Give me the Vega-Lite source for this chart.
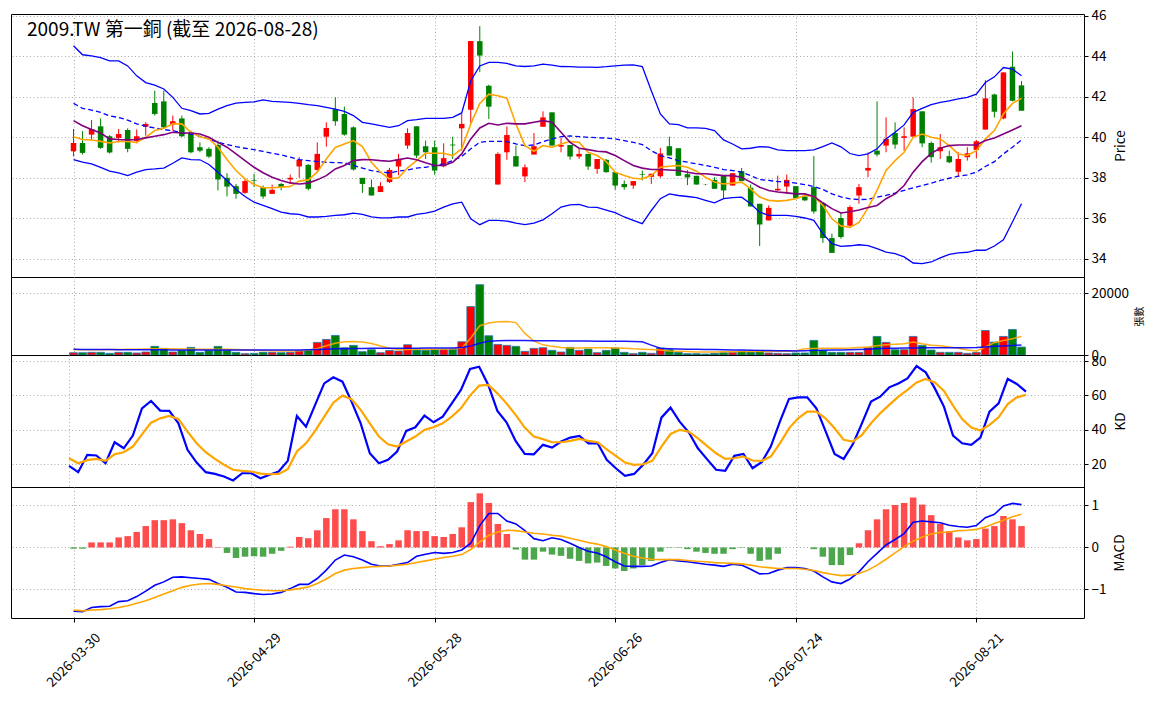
{
  "$schema": "https://vega.github.io/schema/vega-lite/v6.json",
  "padding": {"left": 10, "top": 8, "right": 5, "bottom": 5},
  "bounds": "flush",
  "config": {
    "font": "Noto Sans CJK TC",
    "view": {"stroke": "black", "strokeWidth": 1},
    "axis": {
      "labelFont": "Noto Sans CJK TC", "labelFontSize": 13.5, "labelColor": "black",
      "titleFont": "Noto Sans CJK TC", "titleFontSize": 13.5, "titleFontWeight": "normal", "titleColor": "black",
      "tickColor": "black", "tickSize": 4, "labelPadding": 3,
      "domain": false,
      "gridColor": "#aaaaaa", "gridDash": [1, 2.5], "gridWidth": 1
    }
  },
  "spacing": 0,
  "data": {"values": [
    {"i":0,"d":"2026-03-30","o":39.31,"h":40.41,"l":39.05,"c":39.72,"v":750,"va":1750,"vb":1850,"u":44.51,"m":41.67,"b":38.9,"a5":40.03,"a10":40.82,"k":19.1,"dv":23.5,"md":-1.52,"sg":-1.49,"os":-0.03},
    {"i":1,"d":"2026-03-31","o":39.72,"h":40.3,"l":39.15,"c":39.23,"v":750,"va":1700,"vb":1820,"u":44.07,"m":41.43,"b":38.77,"a5":39.89,"a10":40.57,"k":15.4,"dv":20.6,"md":-1.53,"sg":-1.51,"os":-0.03},
    {"i":2,"d":"2026-04-01","o":40.13,"h":40.85,"l":39.87,"c":40.41,"v":860,"va":1700,"vb":1800,"u":44.02,"m":41.34,"b":38.69,"a5":39.87,"a10":40.38,"k":25.5,"dv":22.4,"md":-1.43,"sg":-1.49,"os":0.12},
    {"i":3,"d":"2026-04-02","o":40.54,"h":40.93,"l":39.43,"c":39.48,"v":860,"va":1700,"vb":1780,"u":43.93,"m":41.23,"b":38.52,"a5":39.8,"a10":40.21,"k":25.1,"dv":23.1,"md":-1.41,"sg":-1.48,"os":0.12},
    {"i":4,"d":"2026-04-07","o":40.05,"h":40.1,"l":39.2,"c":39.25,"v":540,"va":1750,"vb":1760,"u":43.77,"m":41.05,"b":38.33,"a5":39.72,"a10":39.92,"k":20.6,"dv":22.0,"md":-1.4,"sg":-1.46,"os":0.12},
    {"i":5,"d":"2026-04-08","o":39.97,"h":40.41,"l":39.75,"c":40.16,"v":860,"va":1800,"vb":1740,"u":43.77,"m":40.98,"b":38.25,"a5":39.79,"a10":39.89,"k":32.8,"dv":25.8,"md":-1.29,"sg":-1.43,"os":0.24},
    {"i":6,"d":"2026-04-09","o":40.36,"h":40.44,"l":39.26,"c":39.43,"v":860,"va":1850,"vb":1720,"u":43.52,"m":40.85,"b":38.11,"a5":39.79,"a10":39.87,"k":29.3,"dv":27.0,"md":-1.27,"sg":-1.39,"os":0.27},
    {"i":7,"d":"2026-04-10","o":39.82,"h":40.39,"l":39.7,"c":40.05,"v":650,"va":1900,"vb":1700,"u":43.03,"m":40.66,"b":38.28,"a5":39.75,"a10":39.89,"k":36.7,"dv":30.3,"md":-1.17,"sg":-1.33,"os":0.37},
    {"i":8,"d":"2026-04-13","o":40.52,"h":40.74,"l":40.08,"c":40.66,"v":970,"va":1950,"vb":1680,"u":42.7,"m":40.54,"b":38.41,"a5":40.0,"a10":39.97,"k":52.5,"dv":37.4,"md":-1.04,"sg":-1.27,"os":0.51},
    {"i":9,"d":"2026-04-14","o":41.69,"h":42.3,"l":41.07,"c":41.15,"v":2800,"va":2000,"vb":1680,"u":42.57,"m":40.46,"b":38.44,"a5":40.33,"a10":40.05,"k":56.8,"dv":44.2,"md":-0.9,"sg":-1.19,"os":0.65},
    {"i":10,"d":"2026-04-15","o":41.77,"h":42.3,"l":40.41,"c":40.49,"v":2150,"va":2000,"vb":1680,"u":42.38,"m":40.38,"b":38.48,"a5":40.44,"a10":40.13,"k":51.2,"dv":46.7,"md":-0.82,"sg":-1.11,"os":0.65},
    {"i":11,"d":"2026-04-16","o":40.62,"h":41.07,"l":40.33,"c":40.79,"v":970,"va":2000,"vb":1660,"u":41.97,"m":40.33,"b":38.72,"a5":40.66,"a10":40.25,"k":51.0,"dv":48.1,"md":-0.71,"sg":-1.03,"os":0.67},
    {"i":12,"d":"2026-04-17","o":40.93,"h":41.07,"l":40.0,"c":40.05,"v":1500,"va":1950,"vb":1650,"u":41.43,"m":40.21,"b":38.98,"a5":40.66,"a10":40.21,"k":43.8,"dv":46.3,"md":-0.7,"sg":-0.95,"os":0.58},
    {"i":13,"d":"2026-04-20","o":40.25,"h":40.33,"l":39.21,"c":39.26,"v":2470,"va":1950,"vb":1650,"u":41.31,"m":40.16,"b":38.9,"a5":40.25,"a10":40.21,"k":28.4,"dv":39.0,"md":-0.72,"sg":-0.9,"os":0.41},
    {"i":14,"d":"2026-04-21","o":39.51,"h":39.75,"l":39.26,"c":39.34,"v":860,"va":1900,"vb":1640,"u":41.15,"m":40.05,"b":38.89,"a5":40.03,"a10":40.16,"k":21.0,"dv":32.2,"md":-0.74,"sg":-0.87,"os":0.32},
    {"i":15,"d":"2026-04-22","o":39.43,"h":39.51,"l":38.98,"c":39.05,"v":1400,"va":1900,"vb":1630,"u":41.18,"m":39.92,"b":38.66,"a5":39.92,"a10":40.0,"k":15.4,"dv":27.0,"md":-0.76,"sg":-0.86,"os":0.2},
    {"i":16,"d":"2026-04-23","o":39.62,"h":39.84,"l":37.38,"c":37.92,"v":2800,"va":1900,"vb":1620,"u":41.39,"m":39.75,"b":38.28,"a5":39.51,"a10":39.75,"k":14.4,"dv":23.1,"md":-0.86,"sg":-0.88,"os":0.01},
    {"i":17,"d":"2026-04-24","o":38.0,"h":38.23,"l":37.08,"c":37.57,"v":1500,"va":1850,"vb":1610,"u":41.56,"m":39.64,"b":37.87,"a5":38.9,"a10":39.51,"k":12.9,"dv":19.7,"md":-0.95,"sg":-0.91,"os":-0.13},
    {"i":18,"d":"2026-04-27","o":37.59,"h":37.7,"l":36.97,"c":37.21,"v":860,"va":1800,"vb":1600,"u":41.69,"m":39.54,"b":37.43,"a5":38.36,"a10":39.18,"k":10.6,"dv":16.8,"md":-1.06,"sg":-0.94,"os":-0.25},
    {"i":19,"d":"2026-04-28","o":37.26,"h":37.95,"l":37.21,"c":37.84,"v":430,"va":1700,"vb":1600,"u":41.72,"m":39.46,"b":37.08,"a5":37.95,"a10":38.85,"k":14.8,"dv":16.2,"md":-1.07,"sg":-0.98,"os":-0.22},
    {"i":20,"d":"2026-04-29","o":37.88,"h":38.2,"l":37.55,"c":37.85,"v":540,"va":1550,"vb":1600,"u":41.75,"m":39.39,"b":36.8,"a5":37.67,"a10":38.52,"k":14.8,"dv":15.8,"md":-1.1,"sg":-1.0,"os":-0.21},
    {"i":21,"d":"2026-04-30","o":37.54,"h":37.62,"l":36.97,"c":37.08,"v":860,"va":1450,"vb":1600,"u":41.84,"m":39.3,"b":36.64,"a5":37.51,"a10":38.25,"k":11.9,"dv":14.6,"md":-1.12,"sg":-1.02,"os":-0.22},
    {"i":22,"d":"2026-05-04","o":37.21,"h":37.67,"l":37.21,"c":37.41,"v":860,"va":1400,"vb":1600,"u":41.77,"m":39.21,"b":36.48,"a5":37.51,"a10":38.03,"k":13.9,"dv":14.2,"md":-1.11,"sg":-1.03,"os":-0.15},
    {"i":23,"d":"2026-05-05","o":37.7,"h":37.74,"l":37.38,"c":37.54,"v":750,"va":1300,"vb":1600,"u":41.75,"m":39.13,"b":36.31,"a5":37.54,"a10":37.87,"k":15.8,"dv":14.4,"md":-1.07,"sg":-1.03,"os":-0.08},
    {"i":24,"d":"2026-05-06","o":37.92,"h":38.16,"l":37.7,"c":38.0,"v":860,"va":1300,"vb":1620,"u":41.72,"m":39.02,"b":36.23,"a5":37.57,"a10":37.75,"k":22.0,"dv":17.1,"md":-0.98,"sg":-1.01,"os":0.02},
    {"i":25,"d":"2026-05-07","o":38.56,"h":39.02,"l":38.0,"c":38.89,"v":1290,"va":1400,"vb":1650,"u":41.67,"m":38.9,"b":36.2,"a5":37.84,"a10":37.7,"k":48.1,"dv":27.4,"md":-0.88,"sg":-0.98,"os":0.25},
    {"i":26,"d":"2026-05-08","o":38.64,"h":38.69,"l":37.38,"c":37.46,"v":1500,"va":1600,"vb":1700,"u":41.61,"m":38.85,"b":36.07,"a5":37.9,"a10":37.74,"k":41.9,"dv":32.2,"md":-0.88,"sg":-0.94,"os":0.22},
    {"i":27,"d":"2026-05-11","o":38.39,"h":39.75,"l":38.26,"c":39.18,"v":4090,"va":2100,"vb":1800,"u":41.56,"m":38.8,"b":36.07,"a5":38.28,"a10":37.9,"k":54.5,"dv":39.4,"md":-0.74,"sg":-0.86,"os":0.41},
    {"i":28,"d":"2026-05-12","o":40.03,"h":40.74,"l":39.54,"c":40.46,"v":5050,"va":3000,"vb":1900,"u":41.48,"m":38.77,"b":36.1,"a5":38.93,"a10":38.11,"k":67.0,"dv":47.7,"md":-0.54,"sg":-0.75,"os":0.7},
    {"i":29,"d":"2026-05-13","o":41.39,"h":41.97,"l":40.57,"c":40.79,"v":6340,"va":3800,"vb":2000,"u":41.39,"m":38.75,"b":36.15,"a5":39.5,"a10":38.44,"k":70.5,"dv":55.8,"md":-0.3,"sg":-0.62,"os":0.91},
    {"i":30,"d":"2026-05-14","o":41.15,"h":41.51,"l":40.08,"c":40.13,"v":2370,"va":4300,"vb":2050,"u":41.28,"m":38.74,"b":36.18,"a5":39.67,"a10":38.61,"k":68.0,"dv":59.9,"md":-0.18,"sg":-0.54,"os":0.91},
    {"i":31,"d":"2026-05-15","o":40.49,"h":40.54,"l":38.36,"c":38.41,"v":3120,"va":4400,"vb":2100,"u":41.07,"m":38.61,"b":36.26,"a5":39.84,"a10":38.85,"k":56.4,"dv":57.8,"md":-0.22,"sg":-0.5,"os":0.67},
    {"i":32,"d":"2026-05-18","o":38.0,"h":38.0,"l":37.26,"c":37.7,"v":1075,"va":4200,"vb":2120,"u":40.74,"m":38.48,"b":36.2,"a5":39.54,"a10":38.9,"k":43.8,"dv":51.6,"md":-0.3,"sg":-0.48,"os":0.39},
    {"i":33,"d":"2026-05-19","o":37.54,"h":37.92,"l":37.13,"c":37.13,"v":1720,"va":3700,"vb":2150,"u":40.66,"m":38.36,"b":36.07,"a5":38.77,"a10":38.89,"k":26.4,"dv":43.8,"md":-0.4,"sg":-0.46,"os":0.15},
    {"i":34,"d":"2026-05-20","o":37.3,"h":37.79,"l":37.3,"c":37.59,"v":750,"va":2900,"vb":2150,"u":40.57,"m":38.28,"b":36.03,"a5":38.28,"a10":38.85,"k":20.6,"dv":36.1,"md":-0.44,"sg":-0.45,"os":0.03},
    {"i":35,"d":"2026-05-21","o":37.79,"h":38.49,"l":37.75,"c":38.39,"v":1500,"va":2200,"vb":2150,"u":40.49,"m":38.25,"b":36.03,"a5":37.95,"a10":38.82,"k":22.6,"dv":31.6,"md":-0.44,"sg":-0.44,"os":0.08},
    {"i":36,"d":"2026-05-22","o":38.56,"h":39.18,"l":38.13,"c":38.9,"v":1290,"va":1800,"vb":2180,"u":40.57,"m":38.33,"b":36.07,"a5":38.0,"a10":38.9,"k":27.4,"dv":30.3,"md":-0.4,"sg":-0.42,"os":0.17},
    {"i":37,"d":"2026-05-25","o":39.59,"h":40.44,"l":39.43,"c":40.21,"v":3330,"va":1800,"vb":2200,"u":40.82,"m":38.39,"b":36.07,"a5":38.49,"a10":38.98,"k":39.4,"dv":33.2,"md":-0.36,"sg":-0.4,"os":0.41},
    {"i":38,"d":"2026-05-26","o":40.54,"h":40.54,"l":38.98,"c":39.1,"v":1610,"va":1850,"vb":2220,"u":40.87,"m":38.48,"b":36.2,"a5":38.85,"a10":38.89,"k":41.5,"dv":36.1,"md":-0.21,"sg":-0.36,"os":0.39},
    {"i":39,"d":"2026-05-27","o":39.56,"h":39.84,"l":38.93,"c":39.26,"v":1500,"va":1900,"vb":2250,"u":40.93,"m":38.52,"b":36.26,"a5":39.21,"a10":38.74,"k":48.3,"dv":40.0,"md":-0.16,"sg":-0.32,"os":0.39},
    {"i":40,"d":"2026-05-28","o":39.51,"h":39.84,"l":38.15,"c":38.36,"v":1720,"va":1900,"vb":2260,"u":40.93,"m":38.61,"b":36.36,"a5":39.21,"a10":38.61,"k":44.4,"dv":41.5,"md":-0.12,"sg":-0.28,"os":0.27},
    {"i":41,"d":"2026-05-29","o":38.57,"h":39.7,"l":38.52,"c":38.97,"v":1720,"va":1950,"vb":2280,"u":40.93,"m":38.69,"b":36.56,"a5":39.21,"a10":38.61,"k":47.7,"dv":43.8,"md":-0.14,"sg":-0.24,"os":0.25},
    {"i":42,"d":"2026-06-01","o":39.64,"h":40.03,"l":38.93,"c":39.6,"v":1830,"va":2000,"vb":2300,"u":40.98,"m":38.85,"b":36.72,"a5":39.1,"a10":38.77,"k":55.4,"dv":47.7,"md":-0.12,"sg":-0.21,"os":0.32},
    {"i":43,"d":"2026-06-02","o":40.44,"h":41.15,"l":39.34,"c":40.66,"v":4300,"va":2300,"vb":2400,"u":41.2,"m":39.05,"b":36.8,"a5":39.43,"a10":39.18,"k":63.2,"dv":52.5,"md":-0.06,"sg":-0.17,"os":0.48},
    {"i":44,"d":"2026-06-03","o":41.36,"h":44.75,"l":40.69,"c":44.75,"v":15700,"va":5500,"vb":2900,"u":42.79,"m":39.43,"b":35.98,"a5":40.66,"a10":39.92,"k":75.4,"dv":59.9,"md":0.1,"sg":-0.05,"os":1.08},
    {"i":45,"d":"2026-06-04","o":44.74,"h":45.48,"l":43.21,"c":44.03,"v":22800,"va":9500,"vb":3800,"u":43.52,"m":39.75,"b":35.69,"a5":41.67,"a10":40.46,"k":76.7,"dv":65.7,"md":0.52,"sg":0.13,"os":1.29},
    {"i":46,"d":"2026-06-05","o":42.54,"h":42.59,"l":40.9,"c":41.51,"v":6240,"va":10400,"vb":4500,"u":43.69,"m":39.8,"b":35.9,"a5":42.13,"a10":40.69,"k":66.1,"dv":66.1,"md":0.81,"sg":0.29,"os":1.06},
    {"i":47,"d":"2026-06-08","o":37.67,"h":39.26,"l":37.67,"c":39.18,"v":3440,"va":10800,"vb":4650,"u":43.69,"m":39.8,"b":35.9,"a5":42.05,"a10":40.61,"k":51.0,"dv":61.2,"md":0.81,"sg":0.37,"os":0.56},
    {"i":48,"d":"2026-06-09","o":39.26,"h":40.54,"l":38.89,"c":40.11,"v":3120,"va":10900,"vb":4700,"u":43.64,"m":39.79,"b":35.87,"a5":41.93,"a10":40.69,"k":44.4,"dv":55.4,"md":0.63,"sg":0.41,"os":0.32},
    {"i":49,"d":"2026-06-10","o":39.07,"h":39.59,"l":38.56,"c":38.56,"v":2800,"va":10500,"vb":4700,"u":43.52,"m":39.67,"b":35.77,"a5":40.66,"a10":40.66,"k":33.6,"dv":48.7,"md":0.56,"sg":0.4,"os":-0.05},
    {"i":50,"d":"2026-06-11","o":38.07,"h":38.66,"l":37.79,"c":38.52,"v":1180,"va":7000,"vb":4680,"u":43.49,"m":39.59,"b":35.69,"a5":39.59,"a10":40.66,"k":26.0,"dv":41.3,"md":0.4,"sg":0.37,"os":-0.29},
    {"i":51,"d":"2026-06-12","o":39.15,"h":40.21,"l":39.15,"c":39.56,"v":2150,"va":4500,"vb":4650,"u":43.52,"m":39.62,"b":35.77,"a5":39.31,"a10":40.74,"k":25.8,"dv":36.1,"md":0.21,"sg":0.34,"os":-0.29},
    {"i":52,"d":"2026-06-15","o":40.52,"h":41.28,"l":40.52,"c":40.98,"v":2370,"va":3300,"vb":4620,"u":43.61,"m":39.79,"b":35.93,"a5":39.59,"a10":40.82,"k":31.3,"dv":34.6,"md":0.16,"sg":0.32,"os":-0.1},
    {"i":53,"d":"2026-06-16","o":41.23,"h":41.23,"l":39.59,"c":39.59,"v":1500,"va":2800,"vb":4600,"u":43.56,"m":39.92,"b":36.23,"a5":39.51,"a10":40.74,"k":29.7,"dv":32.8,"md":0.23,"sg":0.29,"os":-0.17},
    {"i":54,"d":"2026-06-17","o":39.54,"h":39.97,"l":39.26,"c":39.62,"v":970,"va":2400,"vb":4580,"u":43.49,"m":40.03,"b":36.56,"a5":39.67,"a10":40.25,"k":33.2,"dv":32.8,"md":0.19,"sg":0.27,"os":-0.2},
    {"i":55,"d":"2026-06-18","o":39.62,"h":39.62,"l":38.9,"c":39.05,"v":2470,"va":2300,"vb":4560,"u":43.48,"m":40.07,"b":36.67,"a5":39.79,"a10":39.75,"k":35.5,"dv":33.6,"md":0.1,"sg":0.22,"os":-0.27},
    {"i":56,"d":"2026-06-22","o":39.05,"h":39.46,"l":38.93,"c":39.18,"v":1500,"va":2300,"vb":4540,"u":43.46,"m":40.03,"b":36.69,"a5":39.75,"a10":39.46,"k":36.5,"dv":34.7,"md":0.0,"sg":0.17,"os":-0.32},
    {"i":57,"d":"2026-06-23","o":39.18,"h":39.18,"l":38.39,"c":38.56,"v":1940,"va":2350,"vb":4520,"u":43.46,"m":40.0,"b":36.56,"a5":39.26,"a10":39.39,"k":32.2,"dv":33.6,"md":-0.09,"sg":0.12,"os":-0.38},
    {"i":58,"d":"2026-06-24","o":38.44,"h":38.93,"l":38.2,"c":38.93,"v":750,"va":2350,"vb":4500,"u":43.45,"m":39.98,"b":36.54,"a5":39.1,"a10":39.31,"k":32.2,"dv":32.8,"md":-0.13,"sg":0.08,"os":-0.36},
    {"i":59,"d":"2026-06-25","o":38.89,"h":38.93,"l":38.25,"c":38.28,"v":1500,"va":2350,"vb":4480,"u":43.48,"m":39.96,"b":36.41,"a5":38.8,"a10":39.28,"k":22.6,"dv":28.7,"md":-0.22,"sg":0.02,"os":-0.44},
    {"i":60,"d":"2026-06-26","o":38.28,"h":38.28,"l":37.41,"c":37.62,"v":2260,"va":2300,"vb":4460,"u":43.52,"m":39.92,"b":36.28,"a5":38.28,"a10":39.1,"k":17.7,"dv":24.9,"md":-0.34,"sg":-0.06,"os":-0.5},
    {"i":61,"d":"2026-06-29","o":37.7,"h":37.87,"l":37.41,"c":37.54,"v":860,"va":2200,"vb":4440,"u":43.56,"m":39.84,"b":36.07,"a5":38.11,"a10":38.85,"k":13.3,"dv":21.0,"md":-0.44,"sg":-0.14,"os":-0.56},
    {"i":62,"d":"2026-06-30","o":37.62,"h":37.84,"l":37.46,"c":37.84,"v":430,"va":2000,"vb":4400,"u":43.57,"m":39.75,"b":35.9,"a5":37.98,"a10":38.61,"k":14.4,"dv":19.7,"md":-0.45,"sg":-0.21,"os":-0.5},
    {"i":63,"d":"2026-07-01","o":38.18,"h":38.36,"l":37.87,"c":38.15,"v":860,"va":1900,"vb":4300,"u":43.49,"m":39.64,"b":35.74,"a5":37.95,"a10":38.48,"k":19.7,"dv":20.0,"md":-0.45,"sg":-0.25,"os":-0.42},
    {"i":64,"d":"2026-07-02","o":38.05,"h":38.2,"l":37.7,"c":38.2,"v":540,"va":1800,"vb":3200,"u":42.3,"m":39.34,"b":36.39,"a5":38.11,"a10":38.41,"k":26.4,"dv":22.0,"md":-0.44,"sg":-0.28,"os":-0.32},
    {"i":65,"d":"2026-07-03","o":38.08,"h":39.48,"l":38.0,"c":39.2,"v":2260,"va":1600,"vb":2200,"u":41.15,"m":39.1,"b":36.97,"a5":38.52,"a10":38.41,"k":47.1,"dv":30.3,"md":-0.36,"sg":-0.29,"os":-0.1},
    {"i":66,"d":"2026-07-06","o":39.56,"h":40.03,"l":39.1,"c":39.1,"v":1720,"va":1300,"vb":2050,"u":40.66,"m":38.98,"b":37.21,"a5":38.57,"a10":38.39,"k":52.9,"dv":37.6,"md":-0.29,"sg":-0.29,"os":-0.01},
    {"i":67,"d":"2026-07-07","o":39.46,"h":39.46,"l":38.1,"c":38.1,"v":860,"va":1200,"vb":1950,"u":40.62,"m":38.85,"b":37.13,"a5":38.61,"a10":38.36,"k":44.8,"dv":40.0,"md":-0.32,"sg":-0.29,"os":-0.01},
    {"i":68,"d":"2026-07-08","o":38.18,"h":38.38,"l":37.64,"c":38.02,"v":430,"va":1100,"vb":1900,"u":40.46,"m":38.77,"b":37.08,"a5":38.52,"a10":38.28,"k":38.6,"dv":39.0,"md":-0.34,"sg":-0.31,"os":-0.04},
    {"i":69,"d":"2026-07-09","o":38.1,"h":38.1,"l":37.67,"c":37.67,"v":430,"va":1000,"vb":1850,"u":40.46,"m":38.69,"b":37.02,"a5":38.33,"a10":38.2,"k":29.3,"dv":35.1,"md":-0.37,"sg":-0.33,"os":-0.1},
    {"i":70,"d":"2026-07-10","o":37.67,"h":37.7,"l":37.64,"c":37.66,"v":320,"va":970,"vb":1800,"u":40.44,"m":38.61,"b":36.89,"a5":38.03,"a10":38.2,"k":23.0,"dv":30.7,"md":-0.4,"sg":-0.34,"os":-0.13},
    {"i":71,"d":"2026-07-13","o":37.9,"h":38.03,"l":37.46,"c":37.46,"v":540,"va":1000,"vb":1750,"u":40.33,"m":38.52,"b":36.77,"a5":37.79,"a10":38.16,"k":16.8,"dv":26.4,"md":-0.42,"sg":-0.36,"os":-0.15},
    {"i":72,"d":"2026-07-14","o":38.11,"h":38.11,"l":36.97,"c":37.38,"v":750,"va":1050,"vb":1700,"u":39.87,"m":38.41,"b":36.97,"a5":37.7,"a10":38.11,"k":16.2,"dv":23.1,"md":-0.45,"sg":-0.37,"os":-0.15},
    {"i":73,"d":"2026-07-15","o":37.62,"h":38.23,"l":37.62,"c":38.23,"v":860,"va":1075,"vb":1650,"u":39.67,"m":38.36,"b":37.02,"a5":37.74,"a10":38.11,"k":24.9,"dv":23.5,"md":-0.4,"sg":-0.38,"os":-0.04},
    {"i":74,"d":"2026-07-16","o":38.33,"h":38.49,"l":37.84,"c":37.84,"v":1290,"va":1100,"vb":1600,"u":39.43,"m":38.28,"b":37.05,"a5":37.79,"a10":38.03,"k":26.0,"dv":24.5,"md":-0.42,"sg":-0.39,"os":-0.01},
    {"i":75,"d":"2026-07-17","o":37.51,"h":37.67,"l":36.59,"c":36.59,"v":970,"va":1100,"vb":1550,"u":39.46,"m":38.11,"b":36.72,"a5":37.46,"a10":37.79,"k":17.7,"dv":22.2,"md":-0.52,"sg":-0.42,"os":-0.15},
    {"i":76,"d":"2026-07-20","o":36.72,"h":36.72,"l":34.64,"c":35.7,"v":1500,"va":1100,"vb":1500,"u":39.54,"m":37.92,"b":36.31,"a5":37.05,"a10":37.54,"k":21.2,"dv":22.0,"md":-0.63,"sg":-0.46,"os":-0.32},
    {"i":77,"d":"2026-07-21","o":35.9,"h":36.64,"l":35.9,"c":36.52,"v":650,"va":1150,"vb":1450,"u":39.51,"m":37.87,"b":36.15,"a5":36.89,"a10":37.38,"k":30.3,"dv":24.5,"md":-0.62,"sg":-0.48,"os":-0.29},
    {"i":78,"d":"2026-07-22","o":37.38,"h":38.11,"l":37.34,"c":37.46,"v":540,"va":1180,"vb":1400,"u":39.38,"m":37.82,"b":36.15,"a5":36.85,"a10":37.3,"k":44.8,"dv":32.2,"md":-0.54,"sg":-0.5,"os":-0.15},
    {"i":79,"d":"2026-07-23","o":37.57,"h":38.16,"l":37.21,"c":37.9,"v":430,"va":1200,"vb":1350,"u":39.34,"m":37.79,"b":36.15,"a5":36.89,"a10":37.26,"k":58.0,"dv":40.9,"md":-0.48,"sg":-0.5,"os":0.0},
    {"i":80,"d":"2026-07-24","o":37.59,"h":37.59,"l":37.0,"c":37.0,"v":650,"va":1400,"vb":1330,"u":39.34,"m":37.74,"b":36.1,"a5":36.97,"a10":37.21,"k":58.9,"dv":46.7,"md":-0.48,"sg":-0.5,"os":0.0},
    {"i":81,"d":"2026-07-27","o":37.08,"h":37.25,"l":36.85,"c":36.89,"v":650,"va":2000,"vb":1400,"u":39.34,"m":37.67,"b":36.02,"a5":37.13,"a10":37.21,"k":58.9,"dv":50.6,"md":-0.5,"sg":-0.52,"os":0.0},
    {"i":82,"d":"2026-07-28","o":37.54,"h":39.07,"l":36.23,"c":36.34,"v":4730,"va":2100,"vb":1500,"u":39.38,"m":37.57,"b":35.9,"a5":37.08,"a10":37.08,"k":52.5,"dv":50.6,"md":-0.56,"sg":-0.55,"os":-0.04},
    {"i":83,"d":"2026-07-29","o":36.75,"h":36.75,"l":34.79,"c":35.03,"v":1500,"va":2150,"vb":1550,"u":39.54,"m":37.43,"b":35.25,"a5":36.64,"a10":36.77,"k":39.4,"dv":46.7,"md":-0.7,"sg":-0.6,"os":-0.22},
    {"i":84,"d":"2026-07-30","o":35.03,"h":35.25,"l":34.3,"c":34.3,"v":860,"va":2200,"vb":1600,"u":39.72,"m":37.21,"b":34.75,"a5":35.98,"a10":36.48,"k":26.0,"dv":40.9,"md":-0.82,"sg":-0.64,"os":-0.42},
    {"i":85,"d":"2026-07-31","o":36.02,"h":36.3,"l":35.0,"c":35.08,"v":860,"va":2200,"vb":1650,"u":39.53,"m":37.06,"b":34.62,"a5":35.63,"a10":36.27,"k":23.1,"dv":34.2,"md":-0.86,"sg":-0.67,"os":-0.42},
    {"i":86,"d":"2026-08-03","o":35.64,"h":36.64,"l":35.59,"c":36.56,"v":860,"va":2260,"vb":1700,"u":39.2,"m":36.96,"b":34.65,"a5":35.55,"a10":36.33,"k":31.6,"dv":33.2,"md":-0.75,"sg":-0.66,"os":-0.18},
    {"i":87,"d":"2026-08-04","o":37.13,"h":37.7,"l":36.72,"c":37.54,"v":860,"va":2400,"vb":1750,"u":39.1,"m":36.93,"b":34.7,"a5":35.8,"a10":36.41,"k":43.8,"dv":37.1,"md":-0.58,"sg":-0.62,"os":0.1},
    {"i":88,"d":"2026-08-05","o":38.36,"h":39.26,"l":38.03,"c":38.49,"v":2370,"va":2600,"vb":1850,"u":39.18,"m":36.94,"b":34.66,"a5":36.52,"a10":36.54,"k":56.4,"dv":43.8,"md":-0.34,"sg":-0.54,"os":0.41},
    {"i":89,"d":"2026-08-06","o":39.34,"h":41.77,"l":39.05,"c":39.15,"v":6020,"va":3000,"vb":2000,"u":39.43,"m":37.05,"b":34.51,"a5":37.38,"a10":36.64,"k":59.3,"dv":49.6,"md":-0.14,"sg":-0.42,"os":0.67},
    {"i":90,"d":"2026-08-07","o":39.59,"h":40.98,"l":39.26,"c":39.92,"v":4090,"va":3330,"vb":2150,"u":39.92,"m":37.13,"b":34.34,"a5":38.36,"a10":36.97,"k":64.7,"dv":54.5,"md":0.06,"sg":-0.28,"os":0.91},
    {"i":91,"d":"2026-08-10","o":40.21,"h":40.74,"l":39.43,"c":39.64,"v":1720,"va":3500,"vb":2200,"u":40.25,"m":37.25,"b":34.26,"a5":38.85,"a10":37.21,"k":67.0,"dv":59.3,"md":0.19,"sg":-0.13,"os":1.01},
    {"i":92,"d":"2026-08-11","o":39.97,"h":40.49,"l":39.34,"c":40.05,"v":1720,"va":3650,"vb":2250,"u":40.61,"m":37.38,"b":34.1,"a5":39.26,"a10":37.62,"k":69.9,"dv":63.2,"md":0.33,"sg":0.02,"os":1.06},
    {"i":93,"d":"2026-08-12","o":40.03,"h":41.97,"l":40.03,"c":41.39,"v":6020,"va":4190,"vb":2300,"u":41.23,"m":37.51,"b":33.8,"a5":40.0,"a10":38.28,"k":77.1,"dv":67.6,"md":0.6,"sg":0.15,"os":1.19},
    {"i":94,"d":"2026-08-13","o":41.28,"h":41.28,"l":39.51,"c":39.7,"v":3120,"va":3650,"vb":2350,"u":41.43,"m":37.62,"b":33.77,"a5":40.16,"a10":38.8,"k":73.4,"dv":69.6,"md":0.63,"sg":0.25,"os":1.02},
    {"i":95,"d":"2026-08-14","o":39.72,"h":39.79,"l":38.75,"c":39.02,"v":1610,"va":3200,"vb":2370,"u":41.61,"m":37.74,"b":33.85,"a5":40.0,"a10":39.21,"k":64.1,"dv":67.6,"md":0.61,"sg":0.32,"os":0.77},
    {"i":96,"d":"2026-08-17","o":39.31,"h":40.16,"l":38.93,"c":39.51,"v":860,"va":3010,"vb":2370,"u":41.72,"m":37.87,"b":34.05,"a5":39.92,"a10":39.46,"k":53.5,"dv":62.6,"md":0.59,"sg":0.36,"os":0.56},
    {"i":97,"d":"2026-08-18","o":39.07,"h":39.34,"l":38.72,"c":38.77,"v":860,"va":2600,"vb":2370,"u":41.8,"m":37.98,"b":34.23,"a5":39.59,"a10":39.59,"k":36.7,"dv":54.1,"md":0.53,"sg":0.37,"os":0.39},
    {"i":98,"d":"2026-08-19","o":38.3,"h":39.26,"l":38.07,"c":38.93,"v":860,"va":2200,"vb":2370,"u":41.89,"m":38.08,"b":34.3,"a5":39.18,"a10":39.62,"k":32.2,"dv":46.3,"md":0.5,"sg":0.4,"os":0.24},
    {"i":99,"d":"2026-08-20","o":39.02,"h":39.51,"l":38.85,"c":39.21,"v":540,"va":1600,"vb":2370,"u":41.97,"m":38.15,"b":34.33,"a5":39.1,"a10":39.62,"k":31.3,"dv":41.3,"md":0.48,"sg":0.41,"os":0.17},
    {"i":100,"d":"2026-08-21","o":39.38,"h":39.87,"l":38.98,"c":39.8,"v":860,"va":1290,"vb":2400,"u":42.13,"m":38.28,"b":34.43,"a5":39.34,"a10":39.62,"k":35.5,"dv":39.6,"md":0.52,"sg":0.43,"os":0.2},
    {"i":101,"d":"2026-08-24","o":40.38,"h":42.82,"l":40.38,"c":41.92,"v":7950,"va":2580,"vb":2600,"u":42.7,"m":38.56,"b":34.43,"a5":39.92,"a10":39.84,"k":50.6,"dv":42.9,"md":0.71,"sg":0.49,"os":0.45},
    {"i":102,"d":"2026-08-25","o":42.11,"h":42.15,"l":40.97,"c":41.26,"v":4190,"va":4000,"vb":2800,"u":42.98,"m":38.8,"b":34.64,"a5":40.33,"a10":39.97,"k":55.4,"dv":47.3,"md":0.79,"sg":0.57,"os":0.51},
    {"i":103,"d":"2026-08-26","o":40.93,"h":43.2,"l":40.89,"c":43.2,"v":6020,"va":4700,"vb":2950,"u":43.44,"m":39.18,"b":34.95,"a5":41.15,"a10":40.16,"k":69.6,"dv":55.0,"md":0.99,"sg":0.65,"os":0.75},
    {"i":104,"d":"2026-08-27","o":43.48,"h":44.23,"l":41.77,"c":41.8,"v":8280,"va":5300,"vb":3100,"u":43.36,"m":39.51,"b":35.82,"a5":41.67,"a10":40.36,"k":66.7,"dv":58.9,"md":1.05,"sg":0.73,"os":0.67},
    {"i":105,"d":"2026-08-28","o":42.56,"h":42.77,"l":41.31,"c":41.31,"v":2580,"va":6020,"vb":3230,"u":43.03,"m":39.87,"b":36.72,"a5":41.92,"a10":40.57,"k":62.2,"dv":60.3,"md":1.02,"sg":0.79,"os":0.51}
  ]},
  "vconcat": [
    {
      "width": 1073,
      "height": 263,
      "title": {"text": "2009.TW 第一銅 (截至 2026-08-28)", "anchor": "start", "frame": "group", "offset": -31, "dx": 16, "fontSize": 19, "fontWeight": "normal", "font": "Noto Sans CJK TC", "color": "black"},
      "encoding": {
        "x": {"field": "i", "type": "quantitative", "scale": {"domain": [-6.37, 111.37], "nice": false, "zero": false},
              "axis": {"values": [0, 20, 40, 60, 80, 100], "labels": false, "ticks": false, "title": null, "grid": true, "minExtent": 0, "maxExtent": 0, "labelPadding": 0, "tickSize": 0}}
      },
      "layer": [
        {
          "mark": {"type": "rule", "strokeWidth": 1},
          "encoding": {
            "y": {"field": "l", "type": "quantitative", "scale": {"domain": [33.11, 46.08], "nice": false, "zero": false},
                  "axis": {"orient": "right", "values": [34, 36, 38, 40, 42, 44, 46], "title": "Price", "titleAngle": 270, "titleBaseline": "top", "titlePadding": 8, "grid": true}},
            "y2": {"field": "h"},
            "color": {"condition": {"test": "datum.c >= datum.o", "value": "#ff0000"}, "value": "#008000"}
          }
        },
        {
          "mark": {"type": "bar", "width": 5.5},
          "encoding": {
            "y": {"field": "o", "type": "quantitative", "axis": {"orient": "right", "values": [34, 36, 38, 40, 42, 44, 46], "title": "Price", "titleAngle": 270, "titleBaseline": "top", "titlePadding": 8, "grid": true}},
            "y2": {"field": "c"},
            "color": {"condition": {"test": "datum.c >= datum.o", "value": "#ff0000"}, "value": "#008000"}
          }
        },
        {"mark": {"type": "line", "color": "#0000ff", "strokeWidth": 1.3}, "encoding": {"y": {"field": "u", "type": "quantitative", "axis": {"orient": "right", "values": [34, 36, 38, 40, 42, 44, 46], "title": "Price", "titleAngle": 270, "titleBaseline": "top", "titlePadding": 8, "grid": true}}}},
        {"mark": {"type": "line", "color": "#0000ff", "strokeWidth": 1.3}, "encoding": {"y": {"field": "b", "type": "quantitative", "axis": {"orient": "right", "values": [34, 36, 38, 40, 42, 44, 46], "title": "Price", "titleAngle": 270, "titleBaseline": "top", "titlePadding": 8, "grid": true}}}},
        {"mark": {"type": "line", "color": "#0000ff", "strokeWidth": 1.3, "strokeDash": [5, 3]}, "encoding": {"y": {"field": "m", "type": "quantitative", "axis": {"orient": "right", "values": [34, 36, 38, 40, 42, 44, 46], "title": "Price", "titleAngle": 270, "titleBaseline": "top", "titlePadding": 8, "grid": true}}}},
        {"mark": {"type": "line", "color": "#ffa500", "strokeWidth": 1.6}, "encoding": {"y": {"field": "a5", "type": "quantitative", "axis": {"orient": "right", "values": [34, 36, 38, 40, 42, 44, 46], "title": "Price", "titleAngle": 270, "titleBaseline": "top", "titlePadding": 8, "grid": true}}}},
        {"mark": {"type": "line", "color": "#800080", "strokeWidth": 1.6}, "encoding": {"y": {"field": "a10", "type": "quantitative", "axis": {"orient": "right", "values": [34, 36, 38, 40, 42, 44, 46], "title": "Price", "titleAngle": 270, "titleBaseline": "top", "titlePadding": 8, "grid": true}}}}
      ]
    },
    {
      "width": 1073,
      "height": 78,
      "encoding": {
        "x": {"field": "i", "type": "quantitative", "scale": {"domain": [-6.37, 111.37], "nice": false, "zero": false},
              "axis": {"values": [0, 20, 40, 60, 80, 100], "labels": false, "ticks": false, "title": null, "grid": true, "minExtent": 0, "maxExtent": 0, "labelPadding": 0, "tickSize": 0}}
      },
      "layer": [
        {
          "mark": {"type": "bar", "width": 7.8, "stroke": "#1f77b4", "strokeWidth": 0.8},
          "encoding": {
            "y": {"field": "v", "type": "quantitative", "scale": {"domain": [0, 25300], "nice": false},
                  "axis": {"orient": "right", "values": [0, 20000], "format": "d", "title": "張數", "titleFontSize": 10, "titleAngle": 270, "titleBaseline": "top", "titlePadding": 6, "grid": true}},
            "color": {"condition": {"test": "datum.c >= datum.o", "value": "#ff0000"}, "value": "#008000"}
          }
        },
        {"mark": {"type": "line", "color": "#ffa500", "strokeWidth": 1.5, "opacity": 0.9}, "encoding": {"y": {"field": "va", "type": "quantitative", "axis": {"orient": "right", "values": [0, 20000], "format": "d", "title": "張數", "titleFontSize": 10, "titleAngle": 270, "titleBaseline": "top", "titlePadding": 6, "grid": true}}}},
        {"mark": {"type": "line", "color": "#0000ff", "strokeWidth": 1.5, "opacity": 0.9}, "encoding": {"y": {"field": "vb", "type": "quantitative", "axis": {"orient": "right", "values": [0, 20000], "format": "d", "title": "張數", "titleFontSize": 10, "titleAngle": 270, "titleBaseline": "top", "titlePadding": 6, "grid": true}}}}
      ]
    },
    {
      "width": 1073,
      "height": 132,
      "encoding": {
        "x": {"field": "i", "type": "quantitative", "scale": {"domain": [-6.37, 111.37], "nice": false, "zero": false},
              "axis": {"values": [0, 20, 40, 60, 80, 100], "labels": false, "ticks": false, "title": null, "grid": true, "minExtent": 0, "maxExtent": 0, "labelPadding": 0, "tickSize": 0}}
      },
      "layer": [
        {
          "mark": {"type": "line", "color": "#0000ff", "strokeWidth": 2.2},
          "encoding": {
            "y": {"field": "k", "type": "quantitative", "scale": {"domain": [6.8, 83.5], "nice": false, "zero": false},
                  "axis": {"orient": "right", "values": [20, 40, 60, 80], "title": "KD", "titleAngle": 270, "titleBaseline": "top", "titlePadding": 8, "grid": true}}
          }
        },
        {"mark": {"type": "line", "color": "#ffa500", "strokeWidth": 2.2}, "encoding": {"y": {"field": "dv", "type": "quantitative", "axis": {"orient": "right", "values": [20, 40, 60, 80], "title": "KD", "titleAngle": 270, "titleBaseline": "top", "titlePadding": 8, "grid": true}}}}
      ]
    },
    {
      "width": 1073,
      "height": 131,
      "encoding": {
        "x": {"field": "i", "type": "quantitative", "scale": {"domain": [-6.37, 111.37], "nice": false, "zero": false},
              "axis": {"values": [0, 20, 40, 60, 80, 100], "title": null, "grid": true, "labelFlush": false, "labelOverlap": false,
                       "labelExpr": "['2026-03-30','2026-04-29','2026-05-28','2026-06-26','2026-07-24','2026-08-21'][round(datum.value / 20)]",
                       "labelAngle": -45, "labelAlign": "center", "labelBaseline": "middle", "labelPadding": 38, "labelFontSize": 13.5}}
      },
      "layer": [
        {
          "mark": {"type": "bar", "width": 6.5, "opacity": 0.7},
          "encoding": {
            "y": {"field": "os", "type": "quantitative", "scale": {"domain": [-1.68, 1.44], "nice": false, "zero": false},
                  "axis": {"orient": "right", "values": [-1, 0, 1], "title": "MACD", "titleAngle": 270, "titleBaseline": "top", "titlePadding": 7, "grid": true}},
            "y2": {"datum": 0},
            "color": {"condition": {"test": "datum.os >= 0", "value": "#ff0000"}, "value": "#008000"}
          }
        },
        {"mark": {"type": "line", "color": "#0000ff", "strokeWidth": 1.6}, "encoding": {"y": {"field": "md", "type": "quantitative", "axis": {"orient": "right", "values": [-1, 0, 1], "title": "MACD", "titleAngle": 270, "titleBaseline": "top", "titlePadding": 7, "grid": true}}}},
        {"mark": {"type": "line", "color": "#ffa500", "strokeWidth": 1.6}, "encoding": {"y": {"field": "sg", "type": "quantitative", "axis": {"orient": "right", "values": [-1, 0, 1], "title": "MACD", "titleAngle": 270, "titleBaseline": "top", "titlePadding": 7, "grid": true}}}}
      ]
    }
  ]
}
